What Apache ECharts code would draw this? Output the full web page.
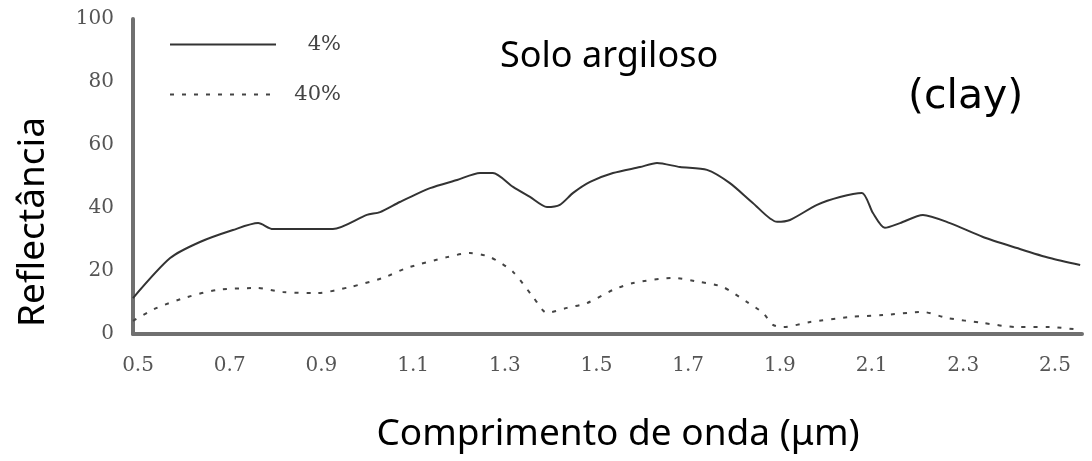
<!DOCTYPE html>
<html>
<head>
<meta charset="utf-8">
<script src="https://cdn.jsdelivr.net/npm/echarts@6/dist/echarts.min.js"></script>
<style>
html,body{margin:0;padding:0;background:#fff;}
#c{width:1092px;height:461px;}
</style>
</head>
<body>
<div id="c"></div>
<script>
// Wavelength (µm) and reflectance (%)
const solidX = [0.489,0.570,0.635,0.707,0.762,0.794,0.925,0.999,1.028,1.071,1.137,1.196,1.246,1.274,1.318,1.355,1.392,1.420,1.449,1.486,1.536,1.595,1.632,1.682,1.741,1.791,1.841,1.894,1.922,1.981,2.031,2.079,2.103,2.129,2.162,2.212,2.271,2.343,2.417,2.489,2.555];
const solidY = [11.4,24.1,29.2,33.0,35.2,33.3,33.3,37.8,38.7,41.9,46.3,48.9,51.1,51.1,46.7,43.5,40.3,41.0,44.8,48.3,51.1,53.0,54.3,53.0,52.1,47.9,41.6,35.6,36.2,41.0,43.5,44.8,38.4,33.7,35.2,37.8,35.2,30.8,27.3,24.1,21.9];
const dashX = [0.489,0.541,0.607,0.672,0.760,0.816,0.890,0.962,1.034,1.087,1.174,1.224,1.268,1.318,1.362,1.392,1.436,1.479,1.536,1.580,1.667,1.726,1.776,1.828,1.863,1.885,1.907,1.966,2.053,2.125,2.212,2.264,2.343,2.417,2.489,2.555];
const dashY = [4.2,8.3,11.7,14.0,14.6,13.3,13.0,14.9,17.8,21.0,24.4,25.7,24.4,19.7,11.7,6.7,8.3,9.8,14.0,16.2,17.8,16.5,14.9,10.2,6.7,2.9,2.2,3.8,5.4,6.0,7.0,5.1,3.5,2.2,2.2,1.3];
const xTicks = [0.5,0.7,0.9,1.1,1.3,1.5,1.7,1.9,2.1,2.3,2.5];
const yTicks = [0,20,40,60,80,100];
const seriesNames = ['4%','40%'];
const xMin = 0.489, xMax = 2.559;

const solidData = solidX.map((x,i)=>[x, solidY[i]]);
const dashData = dashX.map((x,i)=>[x, dashY[i]]);

const chart = echarts.init(document.getElementById('c'), null, {renderer:'canvas'});
const tickFont = {fontFamily:'DejaVu Serif', fontSize:20, color:'#555'};
chart.setOption({
  animation:false,
  backgroundColor:'#fff',
  grid:{left:133, right:10, top:19, bottom:127, containLabel:false},
  legend:{
    orient:'vertical', left:169, top:34, padding:0,
    itemWidth:106, itemHeight:14, itemGap:29,
    data: seriesNames,
    itemStyle:{opacity:0},
    formatter:'{a|{name}}',
    textStyle:{rich:{a:{width:60, align:'right', fontFamily:'DejaVu Serif', fontSize:21, color:'#444'}}}
  },
  xAxis:{
    type:'value', min:xMin, max:xMax,
    axisLine:{show:true, lineStyle:{color:'#707070', width:4}},
    axisTick:{show:false},
    splitLine:{show:false},
    axisLabel:{customValues:xTicks, formatter:v=>v.toFixed(1), margin:22, ...tickFont}
  },
  yAxis:{
    type:'value', min:0, max:100, interval:20,
    axisLine:{show:true, lineStyle:{color:'#707070', width:4}},
    axisTick:{show:false},
    splitLine:{show:false},
    axisLabel:{customValues:yTicks, margin:19, ...tickFont}
  },
  series:[
    {name:seriesNames[0], type:'line', data:solidData, symbol:'none', smooth:0.25,
     lineStyle:{color:'#333', width:2, type:'solid'}, itemStyle:{color:'#333'}},
    {name:seriesNames[1], type:'line', data:dashData, symbol:'none', smooth:0.25,
     lineStyle:{color:'#444', width:2, type:[4,8]}, itemStyle:{color:'#444'}}
  ],
  graphic:[
    {type:'text', x:500, y:57, style:{text:'Solo argiloso', font:'36px "Noto Sans"', fill:'#000', textAlign:'left', textVerticalAlign:'middle'}},
    {type:'text', x:908, y:97, style:{text:'(clay)', font:'41px "DejaVu Sans"', fill:'#000', textAlign:'left', textVerticalAlign:'middle'}},
    {type:'text', x:33, y:222, rotation:Math.PI/2, style:{text:'Reflectância', font:'37px "Noto Sans"', fill:'#000', textAlign:'center', textVerticalAlign:'middle'}},
    {type:'text', x:618, y:434, style:{text:'Comprimento de onda (μm)', font:'37px "Noto Sans"', fill:'#000', textAlign:'center', textVerticalAlign:'middle'}}
  ]
});
</script>
</body>
</html>
